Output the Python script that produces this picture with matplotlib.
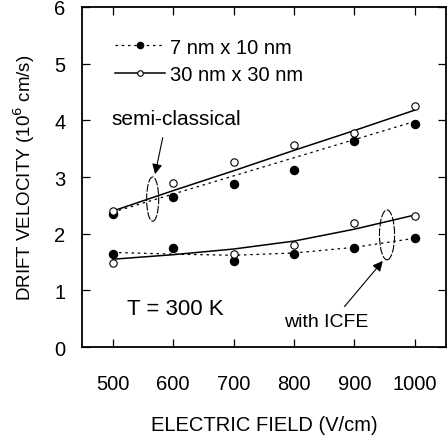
import matplotlib
matplotlib.use('Agg')
import matplotlib.pyplot as plt
from matplotlib.patches import Ellipse

plt.rcParams['font.family'] = ['Liberation Sans', 'DejaVu Sans']

field = [500, 600, 700, 800, 900, 1000]

# semi-classical
semi_small = [2.35, 2.65, 2.87, 3.13, 3.63, 3.93]
semi_large = [2.40, 2.89, 3.26, 3.57, 3.77, 4.25]
semi_small_fit = [2.38, 2.70, 3.02, 3.34, 3.66, 3.98]
semi_large_fit = [2.40, 2.76, 3.11, 3.47, 3.82, 4.18]

# with ICFE
icfe_small = [1.64, 1.75, 1.52, 1.65, 1.74, 1.93]
icfe_large = [1.49, None, 1.64, 1.80, 2.19, 2.32]
icfe_small_fit = [1.67, 1.64, 1.62, 1.66, 1.76, 1.92]
icfe_large_fit = [1.55, 1.63, 1.73, 1.87, 2.08, 2.33]

fig = plt.figure(figsize=(4.48, 4.39), dpi=100)
ax = fig.add_axes([0.183, 0.207, 0.813, 0.775])

dot = dict(color='black', lw=0.9, ls=(0, (2, 3)))
sol = dict(color='black', lw=1.1, ls='-')
fm = dict(marker='o', ms=5.8, mfc='black', mec='black', ls='none')
om = dict(marker='o', ms=5.3, mfc='white', mec='black', mew=0.8, ls='none')

ax.plot(field, semi_small_fit, **dot)
ax.plot(field, semi_large_fit, **sol)
ax.plot(field, icfe_small_fit, **dot)
ax.plot(field, icfe_large_fit, **sol)
ax.plot(field, semi_small, **fm)
ax.plot(field, icfe_small, **fm)
x_ok = [f for f, v in zip(field, icfe_large) if v is not None]
v_ok = [v for v in icfe_large if v is not None]
ax.plot(field, semi_large, **om)
ax.plot(x_ok, v_ok, **om)

# legend handles
h1, = ax.plot([], [], marker='o', ms=4.5, mfc='black', mec='black', **dot)
h2, = ax.plot([], [], marker='o', ms=4.0, mfc='white', mec='black', mew=0.8, **sol)
leg = ax.legend([h1, h2], ['7 nm x 10 nm', '30 nm x 30 nm'], loc='upper left',
                bbox_to_anchor=(0.09, 0.91), frameon=False, fontsize=14.5,
                handlelength=2.5, handletextpad=0.25, labelspacing=0.4,
                borderpad=0, borderaxespad=0)

ell = dict(fill=False, lw=0.8, ls=(0, (7, 1.5)))
ax.add_patch(Ellipse((566, 2.61), 20, 0.78, **ell))
ax.add_patch(Ellipse((954, 1.98), 25, 0.88, **ell))

ax.annotate('semi-classical', xy=(570, 3.05), xytext=(498, 4.03), fontsize=15,
            va='center', ha='left',
            arrowprops=dict(arrowstyle='-|>', color='black', lw=0.8,
                            shrinkA=5, shrinkB=0, mutation_scale=15,
                            relpos=(0.41, 0.0)))
ax.annotate('with ICFE', xy=(947, 1.52), xytext=(853, 0.46), fontsize=14,
            va='center', ha='center',
            arrowprops=dict(arrowstyle='-|>', color='black', lw=0.8,
                            shrinkA=3, shrinkB=0, mutation_scale=15,
                            relpos=(0.66, 1.0)))
ax.text(524, 0.68, 'T = 300 K', fontsize=16, va='center', ha='left')

ax.set_xlim(449, 1052)
ax.set_ylim(0, 6)
ax.set_xticks(field)
ax.set_yticks([0, 1, 2, 3, 4, 5, 6])
ax.tick_params(axis='both', direction='in', length=6, width=0.9, labelsize=14.5,
               top=True, right=True)
ax.tick_params(axis='x', pad=19)
ax.tick_params(axis='y', pad=12)
for s in ax.spines.values():
    s.set_linewidth(1.3)

ax.set_xlabel('ELECTRIC FIELD (V/cm)', fontsize=14.5, labelpad=16)
ax.set_ylabel('DRIFT VELOCITY (10$^6$ cm/s)', fontsize=13.5, labelpad=12)

fig.savefig('out.png', dpi=100)
